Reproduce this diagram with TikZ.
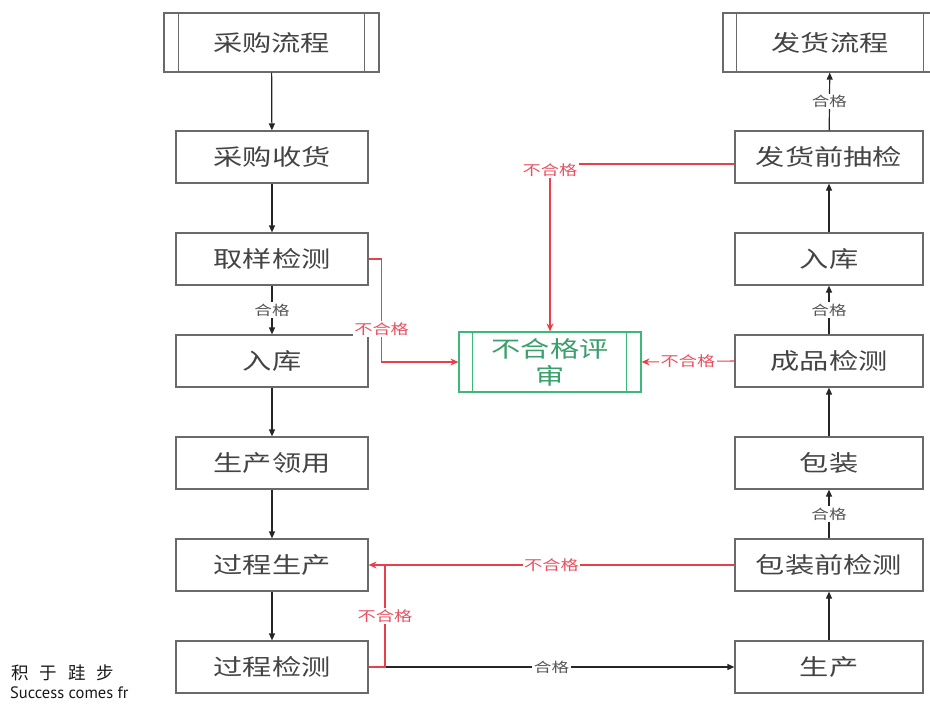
\documentclass[tikz,border=0pt]{standalone}
\usepackage{fontspec}
\newfontfamily\cjk[FakeStretch=1.3]{Noto Sans CJK SC}
\newfontfamily\cjkplain{Noto Sans CJK SC}
\newfontfamily\latinsans{PT Sans}
\usetikzlibrary{arrows.meta}
\definecolor{boxgray}{HTML}{6A6A6A}
\definecolor{txtgray}{HTML}{444444}
\definecolor{lblgray}{HTML}{555555}
\definecolor{redline}{HTML}{E8404A}
\definecolor{redtxt}{HTML}{E85060}
\definecolor{greenbox}{HTML}{3CB878}
\definecolor{greentxt}{HTML}{3A9F6A}
\begin{document}
\begin{tikzpicture}[x=1pt,y=-1pt,
  box/.style={draw=boxgray,line width=1.2pt,rectangle,minimum height=52pt,text=txtgray,
    font=\cjk\fontsize{22.5}{26}\selectfont,inner sep=0pt},
  lbox/.style={box,minimum width=192pt},
  rbox/.style={box,minimum width=188pt},
  pbox/.style={box,minimum height=59pt},
  arr/.style={draw=black!85,line width=1.2pt,-{Triangle[length=7pt,width=6pt]}},
  redarr/.style={draw=redline,line width=1.1pt,-{Stealth[length=8pt,width=7pt]}},
  redln/.style={draw=redline,line width=1.1pt},
  oklbl/.style={fill=white,inner sep=1.5pt,text=lblgray,font=\cjk\fontsize{13.5}{15}\selectfont},
  nglbl/.style={fill=white,inner sep=1.5pt,text=redtxt,font=\cjk\fontsize{14}{16}\selectfont}]
\useasboundingbox (0,0) rectangle (930,704);

% left column
\node[pbox,minimum width=215pt] (cl) at (271.5,42.5) {采购流程};
\draw[boxgray,line width=1.2pt] ([xshift=15pt]cl.north west) -- ([xshift=15pt]cl.south west);
\draw[boxgray,line width=1.2pt] ([xshift=-15pt]cl.north east) -- ([xshift=-15pt]cl.south east);
\node[lbox] (cs) at (272,157) {采购收货};
\node[lbox] (qy) at (272,259) {取样检测};
\node[lbox] (rk1) at (272,361) {入库};
\node[lbox] (ly) at (272,463) {生产领用};
\node[lbox] (gs) at (272,565) {过程生产};
\node[lbox] (gj) at (272,667) {过程检测};

% right column
\node[pbox,minimum width=214pt] (fl) at (830,42.5) {发货流程};
\draw[boxgray,line width=1.2pt] ([xshift=14pt]fl.north west) -- ([xshift=14pt]fl.south west);
\draw[boxgray,line width=1.2pt] ([xshift=-14pt]fl.north east) -- ([xshift=-14pt]fl.south east);
\node[rbox] (fq) at (829,157) {发货前抽检};
\node[rbox] (rk2) at (829,259) {入库};
\node[rbox] (cp) at (829,361) {成品检测};
\node[rbox] (bz) at (829,463) {包装};
\node[rbox] (bq) at (829,565) {包装前检测};
\node[rbox] (sc) at (829,667) {生产};

% review box
\node[draw=greenbox,line width=1.2pt,minimum width=182pt,minimum height=60pt,inner sep=0pt,
  text=greentxt,align=center,font=\cjk\fontsize{22.5}{27}\selectfont] (rv) at (550,362) {不合格评\\审};
\draw[greenbox,line width=1.2pt] ([xshift=14pt]rv.north west) -- ([xshift=14pt]rv.south west);
\draw[greenbox,line width=1.2pt] ([xshift=-15pt]rv.north east) -- ([xshift=-15pt]rv.south east);

% left column flow
\draw[arr] (cl) -- (cs);
\draw[arr] (cs) -- (qy);
\draw[arr] (qy) -- node[oklbl] {合格} (rk1);
\draw[arr] (rk1) -- (ly);
\draw[arr] (ly) -- (gs);
\draw[arr] (gs) -- (gj);
\draw[arr] (gj) -- node[oklbl,pos=0.5] {合格} (sc);

% right column flow
\draw[arr] (sc) -- (bq);
\draw[arr] (bq) -- node[oklbl] {合格} (bz);
\draw[arr] (bz) -- (cp);
\draw[arr] (cp) -- node[oklbl] {合格} (rk2);
\draw[arr] (rk2) -- (fq);
\draw[arr] (fq) -- node[oklbl] {合格} (fl);

% non-conforming
\draw[redarr] (qy.east) -- ++(13,0) |- node[nglbl,pos=0.34] {不合格} (rv.west);
\draw[redarr] ([yshift=-7pt]fq.west) -| node[nglbl,pos=0.5,yshift=-6pt] {不合格} (rv.north);
\draw[redarr] (cp.west) -- node[nglbl] {不合格} (rv.east);
\draw[redarr] (bq.west) -- node[nglbl] {不合格} (gs.east);
\coordinate (jn) at (385,565);
\draw[redln] (gj.east) -| node[nglbl,pos=0.75] {不合格} (jn);

% footer
\node[anchor=west,inner sep=0pt,text=black!90,font=\cjkplain\fontsize{17.5}{19}\selectfont] (ft1) at (11,673) {积\hspace{11pt}于\hspace{11pt}跬\hspace{11pt}步};
\node[anchor=base west,inner sep=0pt,text=black!90,font=\latinsans\fontsize{16.5}{18}\selectfont] (ft2) at (10,698) {Success comes fr};
\end{tikzpicture}
\end{document}
